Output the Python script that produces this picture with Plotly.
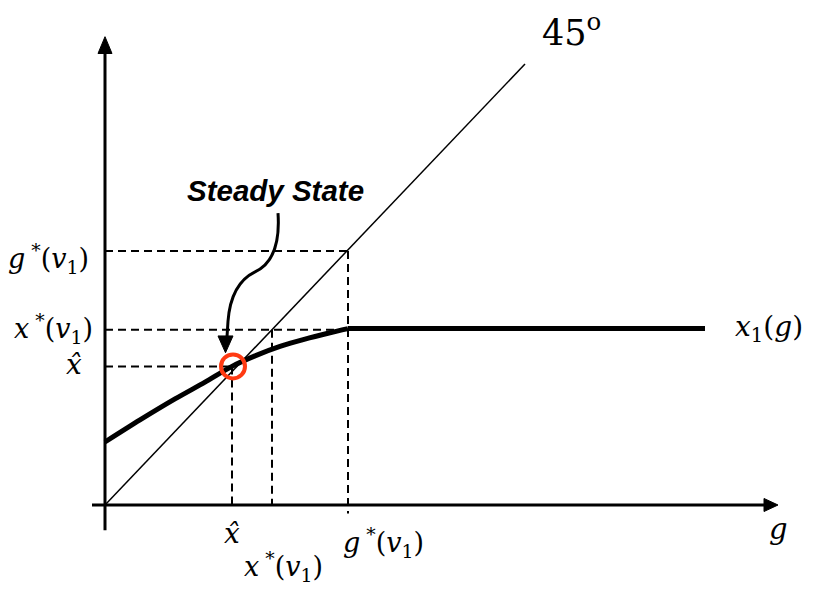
import plotly.graph_objects as go

# ---- data (diagram values in axis units) ----
G_STAR = 243          # g*(v1)
G_STAR_LEVEL = 242
X_STAR = 167          # x*(v1)
X_HAT_G = 127         # x-hat on g axis
X_HAT_LEVEL = 132     # x-hat level
LINE45_END = 420
G_CURVE = [0, 35, 70, 100, 127, 150, 175, 200, 225, 243]
X1_CURVE = [60, 81, 101, 117, 132, 142, 151, 158, 164, 168]
G_FLAT = [243, 600]
X1_FLAT = [168, 168]

YS = 1.05  # vertical pixels per unit
OFF = 8    # page body margin
X_RANGE = [OFF - 105, 824 - 105]
Y_RANGE = [(505 - 590) / YS, (505 - OFF) / YS]

FONT_MATH = "DejaVu Serif"
FONT_SANS = "Arial, 'Liberation Sans', sans-serif"
BLACK = "#000000"
RED = "#FF3A12"

fig = go.Figure()

def dline(x0, y0, x1, y1, width=2, dash="8px,5px", color=BLACK):
    fig.add_shape(type="line", x0=x0, y0=y0, x1=x1, y1=y1, xref="x", yref="y",
                  line=dict(color=color, width=width, dash=dash), layer="below")

# axes
dline(-13, 0, 660, 0, width=3, dash="solid")
dline(0, -24, 0, 432, width=3, dash="solid")
fig.add_shape(type="path", path="M 0,446 L -7,430 L 7,430 Z", fillcolor=BLACK,
              line=dict(color=BLACK, width=1))
fig.add_shape(type="path", path="M 673,0 L 659,-6.2 L 659,6.2 Z", fillcolor=BLACK,
              line=dict(color=BLACK, width=1))

# dashed guides
dline(0, G_STAR_LEVEL, G_STAR, G_STAR_LEVEL)
dline(G_STAR, G_STAR_LEVEL, G_STAR, -8)
dline(0, X_STAR, G_STAR, X_STAR)
dline(X_STAR, X_STAR, X_STAR, 0)
dline(0, X_HAT_LEVEL, X_HAT_G, X_HAT_LEVEL)
dline(X_HAT_G, X_HAT_LEVEL, X_HAT_G, 0)

# 45 degree line
fig.add_trace(go.Scatter(x=[0, LINE45_END], y=[0, LINE45_END], mode="lines",
                         line=dict(color=BLACK, width=1.5), hoverinfo="skip", showlegend=False))

# x1(g) curve
fig.add_trace(go.Scatter(x=G_CURVE, y=X1_CURVE, mode="lines",
                         line=dict(color=BLACK, width=5, shape="spline", smoothing=0.8),
                         hoverinfo="skip", showlegend=False))
fig.add_trace(go.Scatter(x=G_FLAT, y=X1_FLAT, mode="lines",
                         line=dict(color=BLACK, width=5),
                         hoverinfo="skip", showlegend=False))

# steady state circle
fig.add_trace(go.Scatter(x=[X_HAT_G + 1], y=[X_HAT_LEVEL], mode="markers",
                         marker=dict(symbol="circle-open", size=24, color=RED,
                                     line=dict(color=RED, width=4)),
                         hoverinfo="skip", showlegend=False))

# curved arrow
fig.add_shape(type="path",
              path="M 173,278 C 175,250 168,230 150,222 C 135,215 125,200 123,175 L 122,160",
              line=dict(color=BLACK, width=3), fillcolor="rgba(0,0,0,0)")
fig.add_shape(type="path", path="M 113,161 L 128,161 L 120.5,145 Z", fillcolor=BLACK,
              line=dict(color=BLACK, width=1))

def label(x, y, text, size=27, xanchor="center", family=FONT_MATH, yanchor="middle"):
    fig.add_annotation(x=x, y=y, xref="x", yref="y", text=text, showarrow=False,
                       xanchor=xanchor, yanchor=yanchor,
                       font=dict(family=family, size=size, color=BLACK))

gstar = "<i>g</i><sup> *</sup>(<i>v</i><sub>1</sub>)"
xstar = "<i>x</i><sup> *</sup>(<i>v</i><sub>1</sub>)"
xhat = "<i>x\u0302</i>"

label(-14, 235, gstar, xanchor="right")
label(-10, 168, xstar, xanchor="right")
label(-21, 134, xhat, xanchor="right", size=28)
label(127, -27, xhat, size=28)
label(178, -59, xstar)
label(278, -36, gstar)
label(628, 168, "<i>x</i><sub>1</sub>(<i>g</i>)", xanchor="left", size=28)
label(673, -23, "<i>g</i>", size=29)
label(466, 452, "45<sup>o</sup>", size=35)
label(170, 300, "<b><i>Steady State</i></b>", size=29.5, family=FONT_SANS)

fig.update_layout(
    width=824 - OFF, height=590 - OFF,
    margin=dict(l=0, r=0, t=0, b=0),
    paper_bgcolor="white", plot_bgcolor="white",
    xaxis=dict(range=X_RANGE, visible=False, fixedrange=True),
    yaxis=dict(range=Y_RANGE, visible=False, fixedrange=True),
    showlegend=False,
)

fig.write_html("out.html")
